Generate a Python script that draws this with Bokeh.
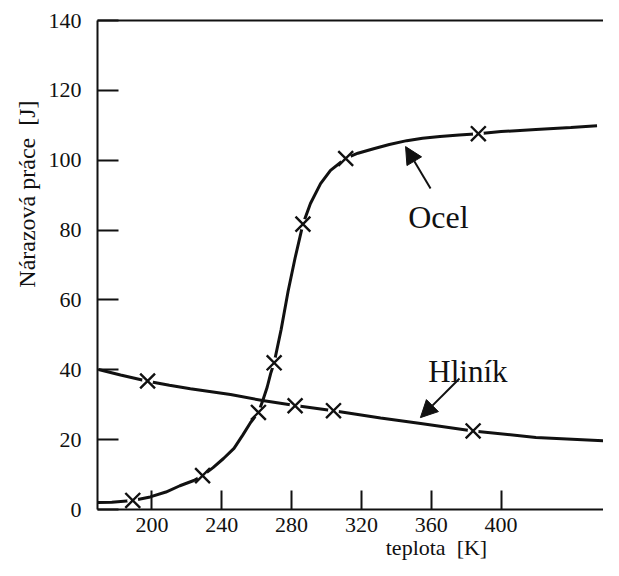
import numpy as np
from bokeh.plotting import figure
from bokeh.models import Range1d, LinearAxis, FixedTicker, Label, Arrow, NormalHead
from bokeh.embed import file_html
from bokeh.resources import INLINE

# ---- data ----
x_ticks = [200, 240, 280, 320, 360, 400]
y_ticks = [0, 20, 40, 60, 80, 100, 120, 140]

# measured points (x marks)
steel_T = [189, 229, 261, 270, 286.5, 311, 387]
steel_E = [2.6, 9.7, 27.8, 42, 81.7, 100.5, 107.6]
al_T = [197.5, 282, 304, 384]
al_E = [36.8, 29.7, 28.3, 22.5]

# traced curves
steel_curve_T = [169, 177, 189, 199, 208, 216, 224, 229, 235, 241, 247, 252, 256.5,
                 261, 263.5, 266, 268, 270, 274, 278, 282, 286.5, 290.8, 296.6, 302.3,
                 310.9, 318, 327, 336, 346, 355, 365, 376, 387, 400, 420, 440, 455]
steel_curve_E = [2.0, 2.1, 2.6, 3.6, 5.0, 6.8, 8.3, 9.7, 12.0, 14.6, 17.5, 21.3, 24.9,
                 27.8, 31.2, 35.0, 38.9, 42.0, 51.5, 62.5, 72.0, 81.7, 87.6, 93.3, 97.1,
                 100.5, 102.0, 103.3, 104.5, 105.6, 106.3, 106.8, 107.2, 107.6, 108.2,
                 108.8, 109.4, 109.9]
al_curve_T = [169.4, 182, 197.5, 210, 222, 245, 263.3, 282, 304, 331, 354, 384, 420, 461]
al_curve_E = [40.1, 38.5, 36.7, 35.6, 34.6, 32.9, 31.2, 29.8, 28.3, 26.2, 24.6, 22.5, 20.6, 19.6]

x_title = "teplota\u00a0 [K]"
y_title = "Nárazová práce\u00a0 [J]"
steel_name = "Ocel"
al_name = "Hliník"

FONT = "Liberation Serif"
INK = "#111111"

p = figure(width=603, height=560,
           x_range=Range1d(168.8, 458.7), y_range=Range1d(0, 140),
           output_backend="svg", toolbar_location=None,
           min_border_left=97, min_border_right=0,
           min_border_top=20, min_border_bottom=51)

p.outline_line_color = None
p.xgrid.visible = False
p.ygrid.visible = False
p.background_fill_color = "white"
p.border_fill_color = "white"

for ax, ticks, tin, stand in ((p.xaxis[0], x_ticks, 19, 8), (p.yaxis[0], y_ticks, 21, 16)):
    ax.ticker = FixedTicker(ticks=ticks)
    ax.major_tick_in = tin
    ax.major_tick_out = 0
    ax.minor_tick_in = 0
    ax.minor_tick_out = 0
    ax.axis_line_width = 2
    ax.axis_line_color = INK
    ax.major_tick_line_width = 2
    ax.major_tick_line_color = INK
    ax.major_label_text_font = FONT
    ax.major_label_text_font_size = "22px"
    ax.major_label_text_color = INK
    ax.major_label_standoff = stand

top_axis = LinearAxis(ticker=FixedTicker(ticks=[]), major_tick_in=0, major_tick_out=0,
                      minor_tick_in=0, minor_tick_out=0,
                      major_label_text_font_size="0px", major_label_standoff=0,
                      axis_line_width=2, axis_line_color=INK)
p.add_layout(top_axis, "above")

# curves
p.line(steel_curve_T, steel_curve_E, line_width=3, line_color=INK)
p.line(al_curve_T, al_curve_E, line_width=3, line_color=INK)

# gaps around the marks, then the x marks
p.scatter(steel_T, steel_E, marker="circle", size=11, fill_color="white", line_color=None)
p.scatter(al_T, al_E, marker="circle", size=11, fill_color="white", line_color=None)
p.scatter(steel_T, steel_E, marker="x", size=21, line_width=2.4, line_color=INK)
p.scatter(al_T, al_E, marker="x", size=21, line_width=2.4, line_color=INK)

# arrows
p.add_layout(Arrow(end=NormalHead(size=17, fill_color=INK, line_color=INK),
                   x_start=359.6, y_start=91.9, x_end=345.3, y_end=103.9,
                   line_width=2, line_color=INK))
p.add_layout(Arrow(end=NormalHead(size=17, fill_color=INK, line_color=INK),
                   x_start=376.2, y_start=37.5, x_end=353.8, y_end=26.3,
                   line_width=2, line_color=INK))

# curve names
p.add_layout(Label(x=364.1, y=83.6, text=steel_name, text_font=FONT,
                   text_font_size="32px", text_align="center",
                   text_baseline="alphabetic", text_color=INK))
p.add_layout(Label(x=381, y=39.5, text=al_name, text_font=FONT,
                   text_font_size="31px", text_align="center",
                   text_baseline="alphabetic", text_color=INK))

# axis titles, placed in the side panels
p.add_layout(Label(x=363, y=12, x_units="data", y_units="screen", text=x_title,
                   text_font=FONT, text_font_size="22px", text_align="center",
                   text_baseline="alphabetic", text_color=INK), "below")
p.add_layout(Label(x=7, y=90.3, x_units="screen", y_units="data", text=y_title,
                   text_font=FONT, text_font_size="24px", text_align="center",
                   angle=np.pi / 2, text_baseline="alphabetic", text_color=INK), "left")

open("out.html", "w").write(file_html(p, INLINE))
